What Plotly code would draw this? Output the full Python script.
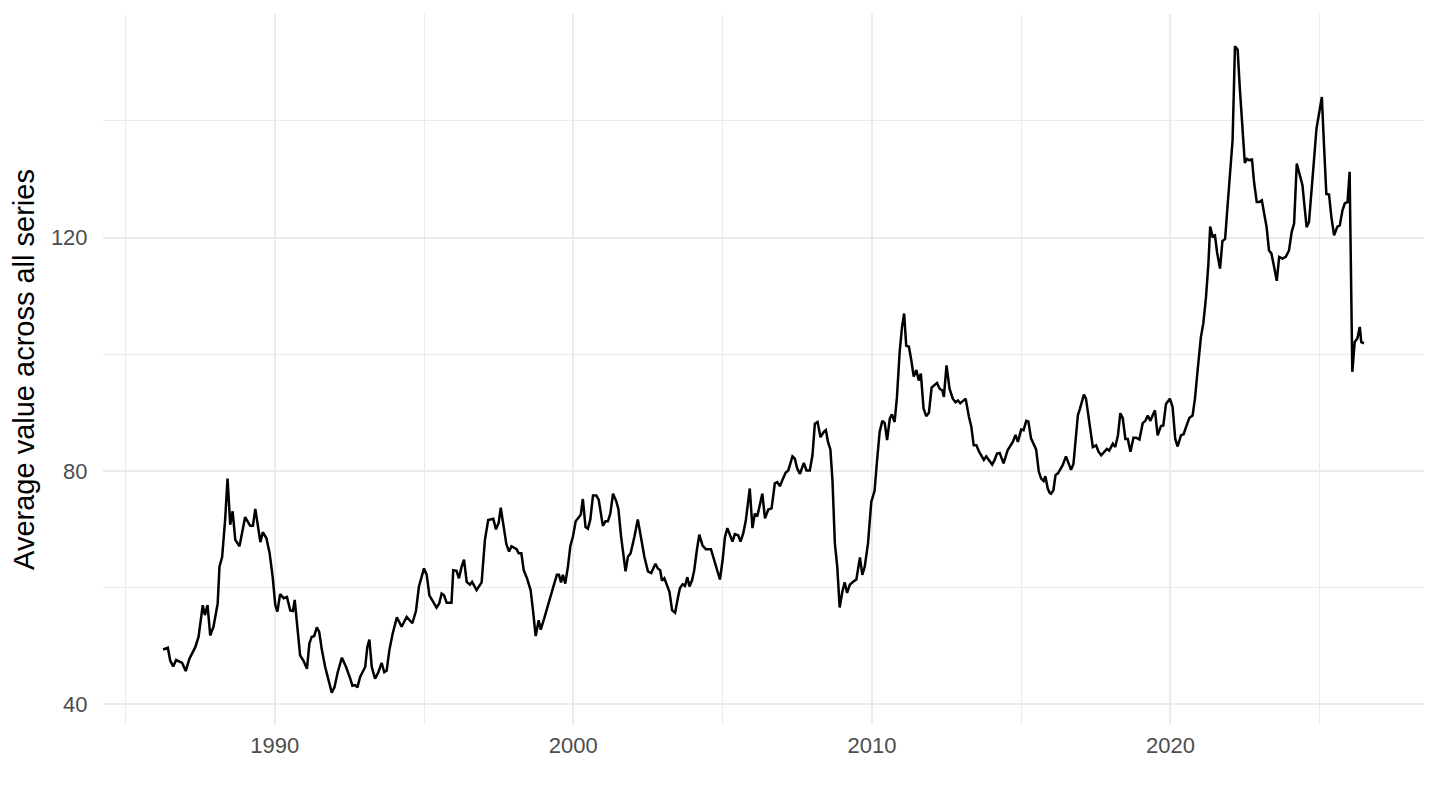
import plotly.graph_objects as go

# average value across all series (decimal years)
years_1986_1994 = [
    1986.26, 1986.42, 1986.50, 1986.60, 1986.70, 1986.90, 1987.02, 1987.14, 1987.34, 1987.45,
    1987.59, 1987.66, 1987.75, 1987.84, 1987.95, 1988.09, 1988.15, 1988.24, 1988.34, 1988.42,
    1988.51, 1988.59, 1988.68, 1988.82, 1989.01, 1989.18, 1989.27, 1989.35, 1989.52, 1989.60,
    1989.72, 1989.83, 1989.93, 1990.02, 1990.09, 1990.18, 1990.30, 1990.41, 1990.52, 1990.61,
    1990.67, 1990.76, 1990.85, 1990.96, 1991.08, 1991.16, 1991.24, 1991.32, 1991.41, 1991.49,
    1991.58, 1991.69, 1991.80, 1991.91, 1992.00, 1992.11, 1992.25, 1992.39, 1992.53, 1992.60,
    1992.69, 1992.77, 1992.86, 1993.03, 1993.10, 1993.17, 1993.25, 1993.36, 1993.47, 1993.58,
    1993.67, 1993.75, 1993.84, 1993.95, 1994.09, 1994.25, 1994.42, 1994.61, 1994.73, 1994.83,
]
values_1986_1994 = [
    49.4, 49.7, 47.5, 46.5, 47.6, 47.1, 45.7, 47.8, 49.8, 51.6,
    57.0, 55.3, 57.0, 51.8, 53.3, 57.3, 63.6, 65.3, 71.7, 78.7,
    70.8, 73.1, 68.2, 67.1, 72.1, 70.6, 70.6, 73.5, 67.8, 69.5,
    68.5, 65.9, 61.9, 57.0, 55.9, 58.9, 58.2, 58.4, 56.1, 56.0,
    57.9, 53.3, 48.4, 47.5, 46.1, 50.4, 51.6, 51.7, 53.2, 52.4,
    49.3, 46.4, 44.1, 42.0, 42.9, 45.5, 48.0, 46.4, 44.4, 43.2,
    43.3, 42.9, 44.7, 46.4, 49.8, 51.1, 46.4, 44.4, 45.5, 47.1,
    45.5, 45.8, 49.3, 52.1, 54.9, 53.3, 55.0, 53.9, 56.0, 60.2,
]

years_1995_2004 = [
    1995.00, 1995.09, 1995.18, 1995.31, 1995.42, 1995.51, 1995.59, 1995.67, 1995.76, 1995.92,
    1995.98, 1996.09, 1996.17, 1996.26, 1996.34, 1996.43, 1996.54, 1996.61, 1996.76, 1996.93,
    1997.04, 1997.15, 1997.32, 1997.41, 1997.50, 1997.57, 1997.67, 1997.76, 1997.85, 1997.93,
    1998.10, 1998.17, 1998.26, 1998.34, 1998.45, 1998.57, 1998.65, 1998.74, 1998.84, 1998.91,
    1999.04, 1999.21, 1999.34, 1999.45, 1999.52, 1999.59, 1999.65, 1999.73, 1999.82, 1999.90,
    1999.99, 2000.08, 2000.25, 2000.32, 2000.41, 2000.49, 2000.57, 2000.66, 2000.77, 2000.85,
    2000.99, 2001.08, 2001.16, 2001.24, 2001.33, 2001.44, 2001.51, 2001.60, 2001.68, 2001.75,
    2001.83, 2001.92, 2002.05, 2002.16, 2002.27, 2002.38, 2002.50, 2002.61, 2002.75, 2002.83,
    2002.91, 2002.97, 2003.05, 2003.13, 2003.22, 2003.31, 2003.41, 2003.50, 2003.57, 2003.66,
    2003.74, 2003.82, 2003.89, 2003.98, 2004.05, 2004.14, 2004.22, 2004.33, 2004.44, 2004.61,
    2004.72, 2004.80, 2004.91,
]
values_1995_2004 = [
    63.3, 62.2, 58.7, 57.6, 56.6, 57.3, 59.0, 58.7, 57.4, 57.4,
    63.0, 62.9, 61.6, 63.6, 64.8, 61.0, 60.5, 61.0, 59.6, 60.9,
    68.2, 71.6, 71.8, 70.0, 71.1, 73.7, 70.0, 67.4, 66.2, 67.1,
    66.6, 65.9, 65.9, 63.0, 61.6, 59.6, 56.1, 51.7, 54.4, 52.8,
    55.0, 58.2, 60.3, 62.2, 62.2, 60.9, 62.2, 60.7, 63.6, 67.1,
    68.8, 71.4, 72.5, 75.2, 70.4, 70.1, 71.7, 75.8, 75.8, 75.1,
    70.6, 71.4, 71.4, 72.7, 76.1, 74.8, 73.5, 68.8, 65.3, 62.8,
    65.3, 65.9, 68.8, 71.7, 68.5, 65.3, 62.8, 62.5, 64.1, 63.3,
    63.0, 61.2, 61.6, 60.6, 59.3, 56.1, 55.7, 58.2, 59.9, 60.6,
    60.3, 61.8, 60.2, 61.3, 63.0, 66.5, 69.1, 67.2, 66.6, 66.6,
    64.8, 63.3, 61.4,
]

years_2005_2014 = [
    2005.00, 2005.08, 2005.16, 2005.25, 2005.33, 2005.41, 2005.52, 2005.60, 2005.69, 2005.78,
    2005.91, 2006.00, 2006.08, 2006.16, 2006.25, 2006.33, 2006.42, 2006.53, 2006.64, 2006.75,
    2006.83, 2006.92, 2007.00, 2007.11, 2007.20, 2007.34, 2007.42, 2007.50, 2007.59, 2007.72,
    2007.81, 2007.92, 2008.01, 2008.09, 2008.18, 2008.28, 2008.39, 2008.46, 2008.53, 2008.61,
    2008.68, 2008.76, 2008.84, 2008.92, 2009.01, 2009.09, 2009.17, 2009.26, 2009.37, 2009.48,
    2009.60, 2009.68, 2009.76, 2009.87, 2009.98, 2010.09, 2010.17, 2010.26, 2010.35, 2010.43,
    2010.51, 2010.60, 2010.67, 2010.76, 2010.84, 2010.93, 2011.01, 2011.08, 2011.15, 2011.24,
    2011.32, 2011.40, 2011.49, 2011.57, 2011.64, 2011.73, 2011.82, 2011.91, 2012.00, 2012.10,
    2012.18, 2012.27, 2012.36, 2012.41, 2012.50, 2012.60, 2012.71, 2012.80, 2012.88, 2012.96,
    2013.14, 2013.25, 2013.33, 2013.41, 2013.50, 2013.59, 2013.66, 2013.75, 2013.83, 2013.94,
    2014.03, 2014.11, 2014.19, 2014.28, 2014.41, 2014.55, 2014.72, 2014.81, 2014.89,
]
values_2005_2014 = [
    64.7, 68.7, 70.2, 68.8, 67.9, 69.2, 69.0, 67.9, 69.3, 71.6,
    77.0, 70.2, 72.7, 72.2, 74.2, 76.1, 71.9, 73.4, 73.6, 77.9,
    78.1, 77.4, 78.4, 79.7, 80.1, 82.5, 82.1, 80.4, 79.5, 81.4,
    80.1, 80.1, 82.7, 88.1, 88.4, 85.8, 86.7, 87.0, 85.0, 83.7,
    78.4, 67.6, 63.6, 56.6, 59.3, 60.9, 59.1, 60.5, 61.0, 61.4,
    65.2, 62.2, 63.6, 67.6, 74.7, 76.6, 81.6, 86.7, 88.6, 88.2,
    85.3, 89.0, 89.7, 88.4, 92.7, 100.4, 104.7, 107.0, 101.5, 101.3,
    99.0, 96.2, 97.3, 95.5, 96.7, 90.7, 89.4, 90.0, 94.3, 94.7,
    95.1, 94.1, 93.8, 92.7, 98.1, 94.1, 92.4, 91.8, 92.1, 91.6,
    92.4, 89.3, 87.6, 84.4, 84.4, 83.3, 82.7, 81.9, 82.5, 81.6,
    81.1, 81.9, 83.0, 83.1, 81.3, 83.6, 85.0, 86.2, 85.0,
]

years_2015_2026 = [
    2015.00, 2015.08, 2015.17, 2015.24, 2015.33, 2015.45, 2015.50, 2015.59, 2015.67, 2015.75,
    2015.81, 2015.89, 2015.95, 2016.00, 2016.08, 2016.15, 2016.23, 2016.30, 2016.39, 2016.50,
    2016.59, 2016.67, 2016.75, 2016.82, 2016.90, 2016.97, 2017.10, 2017.17, 2017.29, 2017.40,
    2017.51, 2017.59, 2017.68, 2017.79, 2017.87, 2017.95, 2018.07, 2018.15, 2018.24, 2018.32,
    2018.40, 2018.49, 2018.57, 2018.66, 2018.76, 2018.85, 2018.96, 2019.07, 2019.16, 2019.24,
    2019.33, 2019.40, 2019.48, 2019.57, 2019.68, 2019.76, 2019.85, 2019.98, 2020.07, 2020.16,
    2020.24, 2020.35, 2020.44, 2020.52, 2020.63, 2020.74, 2020.82, 2020.91, 2021.02, 2021.10,
    2021.19, 2021.27, 2021.33, 2021.41, 2021.49, 2021.56, 2021.66, 2021.74, 2021.83, 2021.91,
    2021.99, 2022.08, 2022.16, 2022.25, 2022.32, 2022.41, 2022.49, 2022.56, 2022.64, 2022.73,
    2022.80, 2022.89, 2022.97, 2023.06, 2023.14, 2023.22, 2023.30, 2023.38, 2023.47, 2023.56,
    2023.64, 2023.75, 2023.86, 2023.97, 2024.06, 2024.14, 2024.23, 2024.33, 2024.42, 2024.49,
    2024.56, 2024.64, 2024.73, 2024.81, 2024.89, 2024.98, 2025.07, 2025.14, 2025.22, 2025.31,
    2025.39, 2025.48, 2025.59, 2025.67, 2025.76, 2025.84, 2025.93, 2026.00, 2026.09, 2026.17,
    2026.26, 2026.34, 2026.39, 2026.48,
]
values_2015_2026 = [
    87.1, 87.0, 88.6, 88.5, 85.6, 84.2, 83.7, 79.9, 78.7, 78.3,
    79.1, 77.0, 76.3, 76.1, 76.7, 79.3, 79.6, 80.2, 81.0, 82.5,
    81.3, 80.2, 81.2, 85.9, 89.6, 90.7, 93.1, 92.4, 88.1, 84.1,
    84.4, 83.3, 82.7, 83.4, 83.8, 83.5, 84.7, 84.1, 86.1, 89.9,
    89.1, 85.5, 85.5, 83.3, 85.7, 85.7, 85.4, 88.2, 88.6, 89.5,
    88.6, 89.5, 90.4, 86.1, 87.7, 87.8, 91.5, 92.4, 91.0, 85.5,
    84.2, 86.1, 86.3, 87.5, 89.1, 89.5, 92.4, 97.3, 103.0, 105.3,
    109.8, 115.5, 121.9, 120.2, 120.4, 117.5, 114.7, 119.4, 119.8, 125.3,
    130.4, 136.7, 152.8, 152.2, 145.8, 138.7, 132.8, 133.5, 133.3, 133.4,
    129.5, 126.1, 126.1, 126.4, 123.8, 121.8, 117.8, 117.3, 115.0, 112.6,
    116.7, 116.4, 116.7, 117.8, 121.0, 122.4, 132.7, 130.7, 129.0, 125.3,
    121.8, 122.7, 129.3, 133.5, 138.7, 141.4, 144.1, 136.1, 127.5, 127.4,
    123.5, 120.4, 121.9, 122.1, 124.7, 125.9, 126.1, 131.3, 97.0, 102.1,
    102.7, 104.7, 102.1, 101.9,
]

x = years_1986_1994 + years_1995_2004 + years_2005_2014 + years_2015_2026
y = values_1986_1994 + values_1995_2004 + values_2005_2014 + values_2015_2026

# ggplot-style 5% expansion
def expand(v, f=0.05):
    lo, hi = min(v), max(v)
    d = (hi - lo) * f
    return [lo - d, hi + d]

grid = "#EBEBEB"
font = "Liberation Sans, Arial, Helvetica, sans-serif"

fig = go.Figure()
fig.add_trace(go.Scatter(
    x=x, y=y, mode="lines",
    line=dict(color="black", width=2.5),
    showlegend=False, hoverinfo="x+y",
))

# page body keeps its 8px margin, so the figure is 16px smaller than the window
fig.update_layout(
    width=1424, height=794,
    paper_bgcolor="white", plot_bgcolor="white",
    margin=dict(l=95, r=8, t=6, b=77),
    font=dict(family=font, color="#4D4D4D", size=22),
    xaxis=dict(
        range=expand(x), tickmode="linear", tick0=1990, dtick=10,
        showgrid=True, gridcolor=grid, gridwidth=2.4,
        minor=dict(tick0=1985, dtick=5, showgrid=True, gridcolor=grid, gridwidth=1.3),
        zeroline=False, showline=False,
        ticks="outside", ticklen=1, tickcolor="rgba(0,0,0,0)",
        tickfont=dict(size=22, color="#4D4D4D"),
    ),
    yaxis=dict(
        range=expand(y), tickmode="linear", tick0=40, dtick=40,
        showgrid=True, gridcolor=grid, gridwidth=2.4,
        minor=dict(tick0=40, dtick=20, showgrid=True, gridcolor=grid, gridwidth=1.3),
        zeroline=False, showline=False,
        ticks="outside", ticklen=10, tickcolor="rgba(0,0,0,0)",
        tickfont=dict(size=22, color="#4D4D4D"),
        title=dict(text="Average value across all series", standoff=7,
                   font=dict(size=29, color="black")),
        automargin=False,
    ),
)

fig.write_html("out.html")
